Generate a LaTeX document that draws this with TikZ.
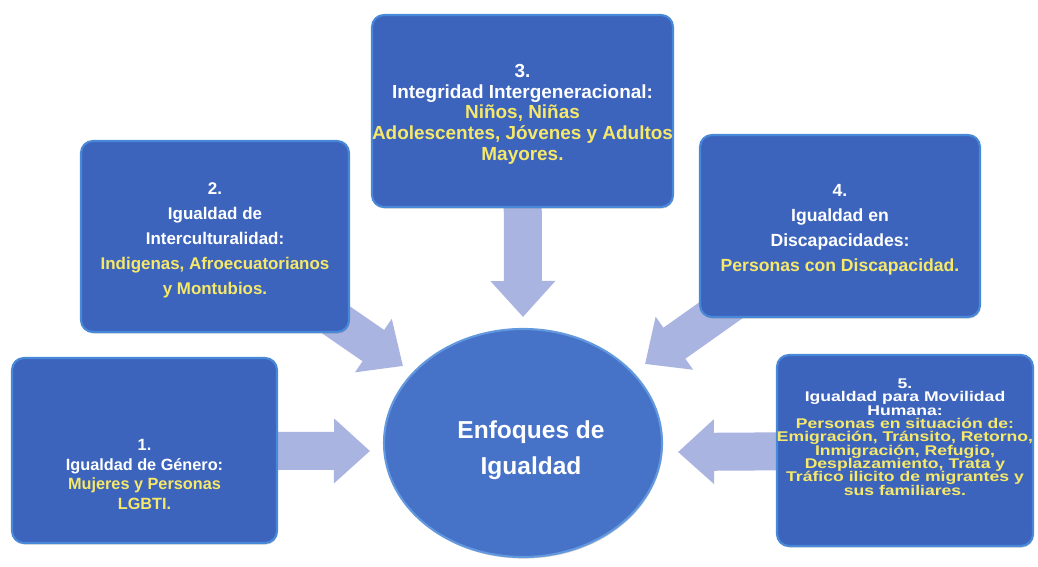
\documentclass[tikz,border=0pt]{standalone}
\usepackage{fontspec}
\setmainfont{Liberation Sans}
\usetikzlibrary{shapes.geometric,arrows.meta,shadows,backgrounds}
\definecolor{boxblue}{RGB}{61,100,189}
\definecolor{boxrim}{RGB}{72,136,216}
\definecolor{hubblue}{RGB}{70,114,200}
\definecolor{hubrim}{RGB}{98,152,222}
\definecolor{arrowfill}{RGB}{170,180,225}
\definecolor{amarillo}{RGB}{246,232,105}
\newcommand\amar[1]{\textcolor{amarillo}{#1}}
\begin{document}
\begin{tikzpicture}[x=0.75pt,y=-0.75pt,line cap=round,line join=round,
  box/.style 2 args={draw=boxrim,line width=1.6pt,fill=boxblue,rounded corners=9pt,
    minimum width=#1*0.75pt,minimum height=#2*0.75pt,inner sep=0pt,
    drop shadow={shadow xshift=0.6pt,shadow yshift=-1.2pt,opacity=0.35}},
  lbl/.style 2 args={text=white,align=center,inner sep=0pt,
    font=\bfseries\fontsize{#1}{#2}\selectfont,
    execute at begin node={\lineskiplimit=-100pt\relax}},
  fat/.style={draw=arrowfill,line width=28.5pt,line cap=butt,
    -{Triangle[length=27pt,width=47pt]}}]
  \useasboundingbox (0,0) rectangle (1038,567);
  % cajas y circulo central
  \node[box={265}{185}] (b1) at (144.5,450.5) {};
  \node[box={268}{191}] (b2) at (215,236.5) {};
  \node[box={301}{192}] (b3) at (522.5,111) {};
  \node[box={280}{182}] (b4) at (840,226) {};
  \node[box={256}{191}] (b5) at (905,450.5) {};
  \node[ellipse,draw=hubrim,line width=1.6pt,fill=hubblue,inner sep=0pt,
    minimum width=208.5pt,minimum height=171pt,
    drop shadow={shadow xshift=0.6pt,shadow yshift=-1.2pt,opacity=0.35}] (hub) at (523,443) {};
  % puntas de flecha
  \coordinate (t1) at (370,451);
  \coordinate (t2) at (403,366);
  \coordinate (t3) at (523,317);
  \coordinate (t4) at (645,364);
  \coordinate (t5) at (678,452);
  \begin{pgfonlayer}{background}
    \fill[white] (0,0) rectangle (1038,567);
    \foreach \b/\t in {b1/t1,b2/t2,b3/t3,b4/t4,b5/t5}
      \draw[fat] (\b.center) -- (\t);
  \end{pgfonlayer}
  % textos
  \node[lbl={12.2pt}{14.6pt}] (b1t) at ([yshift=-18pt]b1.center)
    {1.\\Igualdad de Género:\\\amar{Mujeres y Personas}\\\amar{LGBTI.}};
  \node[lbl={12.7pt}{18.75pt}] (b2t) at ([yshift=-3.2pt]b2.center)
    {2.\\Igualdad de\\Interculturalidad:\\\amar{Indigenas, Afroecuatorianos}\\\amar{y Montubios.}};
  \node[lbl={14.2pt}{15.4pt}] (b3t) at ([yshift=-2.5pt]b3.center)
    {3.\\Integridad Intergeneracional:\\\amar{Niños, Niñas}\\\amar{Adolescentes, Jóvenes y Adultos}\\\amar{Mayores.}};
  \node[lbl={13.2pt}{18.75pt}] (b4t) at ([yshift=-3pt]b4.center)
    {4.\\Igualdad en\\Discapacidades:\\\amar{Personas con Discapacidad.}};
  \node[lbl={13.2pt}{12.5pt},yscale=0.8,transform shape] (b5t) at ([yshift=10pt]b5.center)
    {5.\\Igualdad para Movilidad\\Humana:\\\amar{Personas en situación de:}\\\amar{Emigración, Tránsito, Retorno,}\\\amar{Inmigración, Refugio,}\\\amar{Desplazamiento, Trata y}\\\amar{Tráfico ilicito de migrantes y}\\\amar{sus familiares.}};
  \node[lbl={18.4pt}{27pt}] (hubt) at ([xshift=6pt,yshift=-5.5pt]hub.center)
    {Enfoques de\\Igualdad};
\end{tikzpicture}
\end{document}
